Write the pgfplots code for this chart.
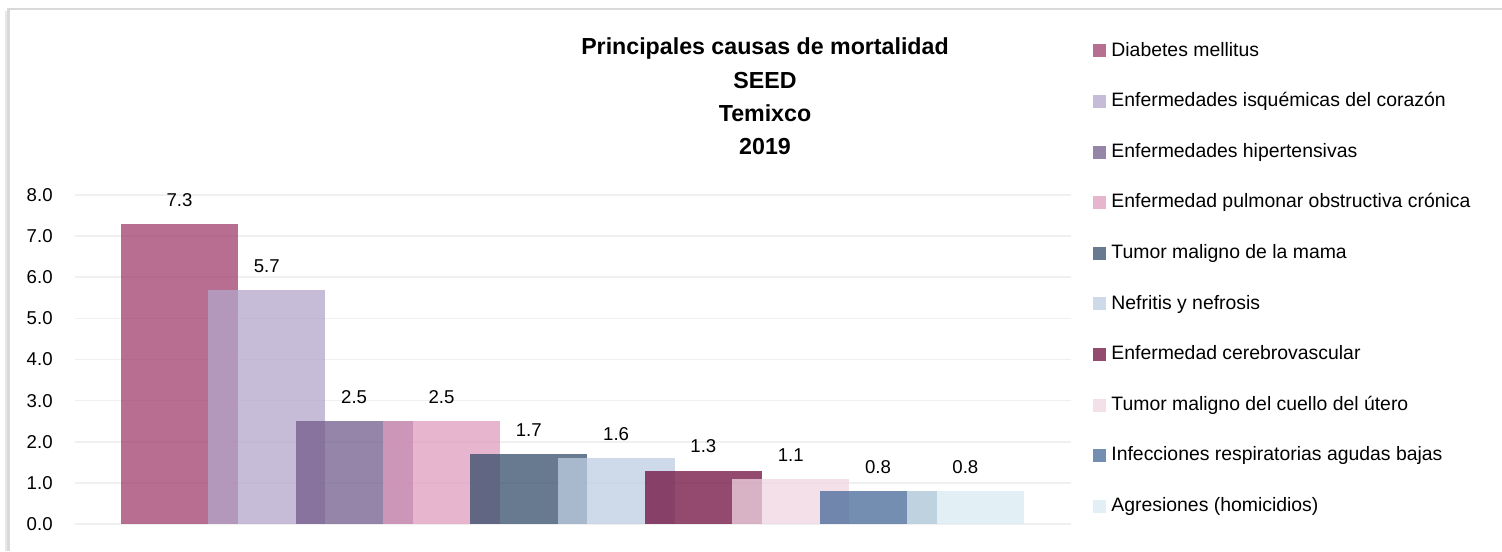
\documentclass[border=0pt]{standalone}
\usepackage{fontspec}
\setmainfont{Liberation Sans}
\usepackage{pgfplots}
\pgfplotsset{compat=1.18}

\definecolor{c1}{RGB}{159,62,108}
\definecolor{c2}{RGB}{180,166,202}
\definecolor{c3}{RGB}{114,92,140}
\definecolor{c4}{RGB}{224,156,191}
\definecolor{c5}{RGB}{52,78,107}
\definecolor{c6}{RGB}{190,206,226}
\definecolor{c7}{RGB}{112,14,62}
\definecolor{c8}{RGB}{239,214,226}
\definecolor{c9}{RGB}{68,104,151}
\definecolor{c10}{RGB}{216,234,240}
\definecolor{gridc}{RGB}{240,240,240}
\definecolor{framec}{RGB}{217,217,217}

\pgfplotsset{
  cbar/.style={draw=none, fill=#1, fill opacity=0.75, bar shift=0pt,
    legend image code/.code={\fill[##1] (0pt,-3.25pt) rectangle (6.5pt,3.25pt);}},
}

\begin{document}
\begin{tikzpicture}
\useasboundingbox (0,0) rectangle (751pt,-275.5pt);
% frame of the chart area
\draw[framec!60, line width=1.5pt] (3.2pt,-275.5pt) -- (3.2pt,-5.5pt);
\draw[framec, line width=1.2pt] (4.3pt,-275.5pt) |- (751pt,-4.5pt);

% title
\begin{scope}[font=\bfseries\fontsize{11.6}{13}\selectfont]
  \node[anchor=base] at (382.5pt,-27.3pt) {Principales causas de mortalidad};
  \node[anchor=base] at (382.5pt,-44.3pt) {SEED};
  \node[anchor=base] at (382.5pt,-60.8pt) {Temixco};
  \node[anchor=base] at (382.5pt,-77.5pt) {2019};
\end{scope}

\begin{axis}[
  at={(37.5pt,-262pt)}, anchor=south west,
  scale only axis, width=498pt, height=164.5pt,
  xmin=-1.197, xmax=10.21, ymin=0, ymax=8,
  xtick=\empty, ytick={0,1,...,8},
  ymajorgrids, grid style={gridc, line width=0.8pt},
  axis line style={draw=none}, major tick length=0pt,
  /pgf/number format/assume math mode=true,
  yticklabel style={font=\fontsize{9.3}{11}\selectfont, inner sep=0pt, xshift=-11pt,
    /pgf/number format/fixed, /pgf/number format/fixed zerofill,
    /pgf/number format/precision=1},
  clip=false,
  ybar, bar width=58.5pt,
  nodes near coords={\pgfmathprintnumber[fixed,fixed zerofill,precision=1]{\pgfplotspointmeta}},
  every node near coord/.append style={font=\fontsize{9.3}{11}\selectfont, text=black,
    text opacity=1, inner sep=0pt, anchor=south, yshift=8.5pt},
  legend style={at={(1.0221,1.4675)}, anchor=north west, draw=none, fill=none,
    inner sep=0pt, font=\fontsize{9.7}{11}\selectfont, row sep=16pt,
    nodes={inner sep=0pt, text height=7.2pt, text depth=2.1pt},
    /tikz/every odd column/.style={column sep=2.5pt}},
  legend cell align=left,
]
\addplot[cbar=c1]  coordinates {(0,7.3)};
\addplot[cbar=c2]  coordinates {(1,5.7)};
\addplot[cbar=c3]  coordinates {(2,2.5)};
\addplot[cbar=c4]  coordinates {(3,2.5)};
\addplot[cbar=c5]  coordinates {(4,1.7)};
\addplot[cbar=c6]  coordinates {(5,1.6)};
\addplot[cbar=c7]  coordinates {(6,1.3)};
\addplot[cbar=c8]  coordinates {(7,1.1)};
\addplot[cbar=c9]  coordinates {(8,0.8)};
\addplot[cbar=c10] coordinates {(9,0.8)};
\legend{Diabetes mellitus, Enfermedades isquémicas del corazón,
  Enfermedades hipertensivas, Enfermedad pulmonar obstructiva crónica,
  Tumor maligno de la mama, Nefritis y nefrosis, Enfermedad cerebrovascular,
  Tumor maligno del cuello del útero, Infecciones respiratorias agudas bajas,
  Agresiones (homicidios)}
\end{axis}
\end{tikzpicture}
\end{document}
